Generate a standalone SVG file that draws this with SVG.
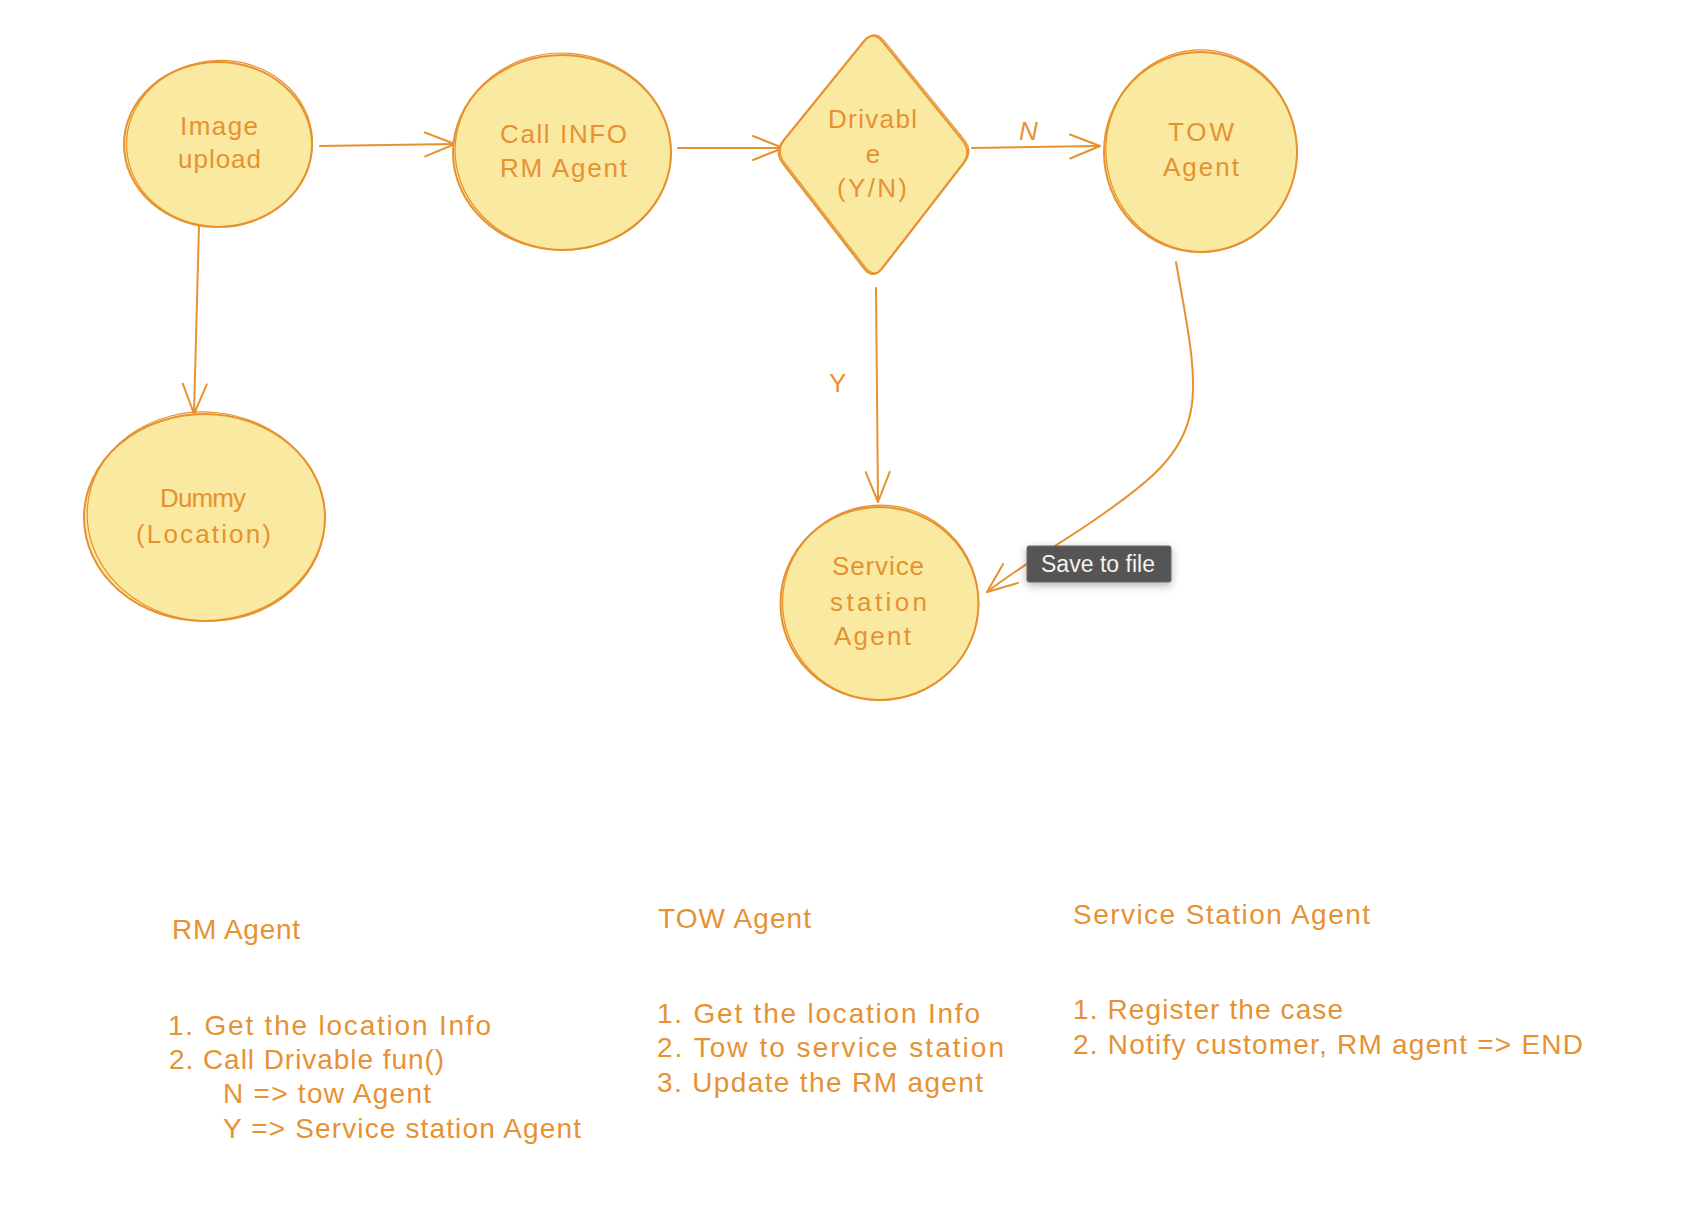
<svg xmlns="http://www.w3.org/2000/svg" width="1696" height="1222" viewBox="0 0 1696 1222">
<style>
.shape{fill:#fae9a1;stroke:#e6922f;stroke-width:2}
.sk{fill:none;stroke:#e6922f;stroke-width:1.2}
.lbl{font-family:"Liberation Sans","DejaVu Sans",sans-serif;font-size:26px;fill:#e69232}
.note{font-family:"Liberation Sans","DejaVu Sans",sans-serif;font-size:28px;fill:#e69232}
.edge{fill:none;stroke:#e6922f;stroke-width:2;stroke-linecap:round}
.tip{font-family:"Liberation Sans","DejaVu Sans",sans-serif;font-size:23px;fill:#f2f2f2}
</style>
<defs>
<marker id="ah" viewBox="-34 -15 36 30" refX="0" refY="0" markerWidth="36" markerHeight="30" markerUnits="userSpaceOnUse" orient="auto">
<path d="M-30,-12 L0,0 L-30,12" fill="none" stroke="#e6922f" stroke-width="2" stroke-linecap="round" stroke-linejoin="round"/>
</marker>
<filter id="shadow" x="-20%" y="-40%" width="140%" height="200%">
<feDropShadow dx="0" dy="3" stdDeviation="4" flood-color="#000" flood-opacity="0.3"/>
</filter>
</defs>
<rect width="1696" height="1222" fill="#ffffff"/>

<g id="connectors">
<path class="edge" d="M320,146 L455,144" marker-end="url(#ah)"/>
<path class="edge" d="M678,148 L783,148" marker-end="url(#ah)"/>
<path class="edge" d="M972,148 L1100,146" marker-end="url(#ah)"/>
<text class="lbl" x="1019" y="140" font-style="italic">N</text>
<path class="edge" d="M876,288 L878,502" marker-end="url(#ah)"/>
<text class="lbl" x="829" y="392">Y</text>
<path class="edge" d="M199,225 L194,414" marker-end="url(#ah)"/>
<path class="edge" d="M1176,262 C1186,320 1198,372 1191,410 C1183,455 1150,482 1093,521 C1060,544 1020,566 987,592" marker-end="url(#ah)"/>
</g>

<g id="node-image-upload">
<ellipse class="shape" cx="218" cy="144.5" rx="94" ry="82.5"/>
<ellipse class="sk" cx="219.5" cy="143.5" rx="93" ry="83" transform="rotate(-3 219 144)"/>
<text class="lbl" x="180" y="135" textLength="78">Image</text>
<text class="lbl" x="178" y="168" textLength="83">upload</text>
</g>

<g id="node-call-info">
<ellipse class="shape" cx="562" cy="152.5" rx="109" ry="97.5"/>
<ellipse class="sk" cx="563" cy="151.5" rx="108" ry="98.5" transform="rotate(4 562 152)"/>
<text class="lbl" x="500" y="143" textLength="127">Call INFO</text>
<text class="lbl" x="500" y="177" textLength="127">RM Agent</text>
</g>

<g id="node-drivable">
<path class="shape" d="M863.5,41.6 Q873,30 882.5,41.6 L962.5,140.3 Q972,152 962.8,163.9 L882.2,268.1 Q873,280 863.8,268.1 L783.2,163.9 Q774,152 783.5,140.3 Z"/>
<path class="sk" transform="translate(1.5,-1)" d="M863.5,41.6 Q873,30 882.5,41.6 L962.5,140.3 Q972,152 962.8,163.9 L882.2,268.1 Q873,280 863.8,268.1 L783.2,163.9 Q774,152 783.5,140.3 Z"/>
<text class="lbl" x="828" y="128" textLength="89">Drivabl</text>
<text class="lbl" x="873" y="163" text-anchor="middle">e</text>
<text class="lbl" x="837" y="197" textLength="70">(Y/N)</text>
</g>

<g id="node-tow-agent">
<ellipse class="shape" cx="1200.5" cy="152" rx="96.5" ry="100"/>
<ellipse class="sk" cx="1201.5" cy="151" rx="95.5" ry="101" transform="rotate(-4 1200 152)"/>
<text class="lbl" x="1168" y="141" textLength="66">TOW</text>
<text class="lbl" x="1163" y="176" textLength="76">Agent</text>
</g>

<g id="node-dummy">
<ellipse class="shape" cx="204.5" cy="517.5" rx="120.5" ry="103.5"/>
<ellipse class="sk" cx="206" cy="516.5" rx="119" ry="104.5" transform="rotate(5 205 517)"/>
<text class="lbl" x="160" y="507" textLength="86">Dummy</text>
<text class="lbl" x="136" y="543" textLength="135">(Location)</text>
</g>

<g id="node-service-station">
<ellipse class="shape" cx="879.5" cy="603.5" rx="99" ry="96.5"/>
<ellipse class="sk" cx="880.5" cy="602.5" rx="98" ry="97.5" transform="rotate(6 880 603)"/>
<text class="lbl" x="832" y="575" textLength="92">Service</text>
<text class="lbl" x="830" y="611" textLength="97">station</text>
<text class="lbl" x="834" y="645" textLength="77">Agent</text>
</g>

<g id="tooltip">
<rect x="1027" y="546" width="144" height="36" rx="2" fill="#545454" stroke="#6a6a6a" stroke-width="1" filter="url(#shadow)"/>
<text class="tip" x="1041" y="572" textLength="114">Save to file</text>
</g>

<g id="note-rm-agent">
<text class="note" x="172" y="939" textLength="128">RM Agent</text>
<text class="note" x="168" y="1035" textLength="323">1. Get the location Info</text>
<text class="note" x="169" y="1069" textLength="275">2. Call Drivable fun()</text>
<text class="note" x="223" y="1103" textLength="208">N =&gt; tow Agent</text>
<text class="note" x="223" y="1138" textLength="358">Y =&gt; Service station Agent</text>
</g>

<g id="note-tow-agent">
<text class="note" x="658" y="928" textLength="153">TOW Agent</text>
<text class="note" x="657" y="1023" textLength="323">1. Get the location Info</text>
<text class="note" x="657" y="1057" textLength="347">2. Tow to service station</text>
<text class="note" x="657" y="1092" textLength="326">3. Update the RM agent</text>
</g>

<g id="note-service-station-agent">
<text class="note" x="1073" y="924" textLength="297">Service Station Agent</text>
<text class="note" x="1073" y="1019" textLength="270">1. Register the case</text>
<text class="note" x="1073" y="1054" textLength="510">2. Notify customer, RM agent =&gt; END</text>
</g>
</svg>
